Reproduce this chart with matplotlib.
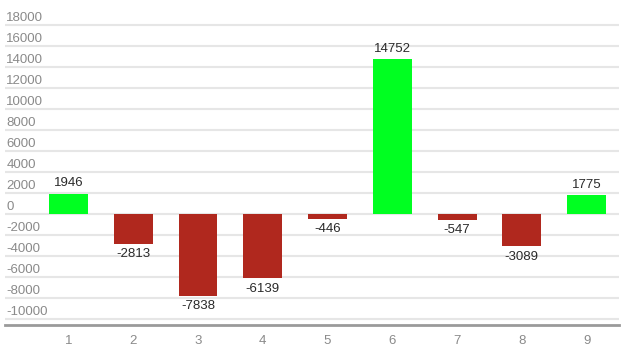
import matplotlib
matplotlib.use("Agg")
import matplotlib.pyplot as plt
from matplotlib.transforms import ScaledTranslation

categories = [1, 2, 3, 4, 5, 6, 7, 8, 9]
values = [1946, -2813, -7838, -6139, -446, 14752, -547, -3089, 1775]
yticks = list(range(-10000, 18001, 2000))

plt.rcParams['font.family'] = ['Liberation Sans Narrow', 'Liberation Sans', 'DejaVu Sans']

W, H = 630, 357
fig = plt.figure(figsize=(W / 100, H / 100), dpi=100)
ax = fig.add_axes([5 / W, (H - 325) / H, (619 - 5) / W, (325 - 4) / H])

green = '#00ff21'
red = '#b0281e'
colors = [green if v >= 0 else red for v in values]
ax.bar(categories, values, width=0.6, color=colors, zorder=3)

ax.set_xlim(1 - 63.5 / 64.75, 9.5)
ax.set_ylim(-10570, 20000)

ax.set_yticks(yticks)
ax.set_yticklabels([str(t) for t in yticks])
ax.tick_params(axis='y', length=0, pad=-1, labelsize=9.5, labelcolor='#8a8a8a')
offset = ScaledTranslation(0, 9 / 100, fig.dpi_scale_trans)
for lab in ax.get_yticklabels():
    lab.set_horizontalalignment('left')
    lab.set_transform(lab.get_transform() + offset)

ax.set_xticks(categories)
ax.set_xticklabels([str(c) for c in categories])
ax.tick_params(axis='x', length=0, pad=7, labelsize=9.5, labelcolor='#8a8a8a')

ax.grid(axis='y', color='#e6e6e6', linewidth=1.5, zorder=0)
ax.set_axisbelow(True)
for s in ['top', 'right', 'left']:
    ax.spines[s].set_visible(False)
ax.spines['bottom'].set_color('#9a9a9a')
ax.spines['bottom'].set_linewidth(2)

for c, v in zip(categories, values):
    if v >= 0:
        ax.annotate(str(v), (c, v), xytext=(0, 3), textcoords='offset points',
                    ha='center', va='bottom', fontsize=9.5, color='#2a2a2a')
    else:
        ax.annotate(str(v), (c, v), xytext=(0, -3), textcoords='offset points',
                    ha='center', va='top', fontsize=9.5, color='#2a2a2a')

fig.savefig('out.png', dpi=100)
